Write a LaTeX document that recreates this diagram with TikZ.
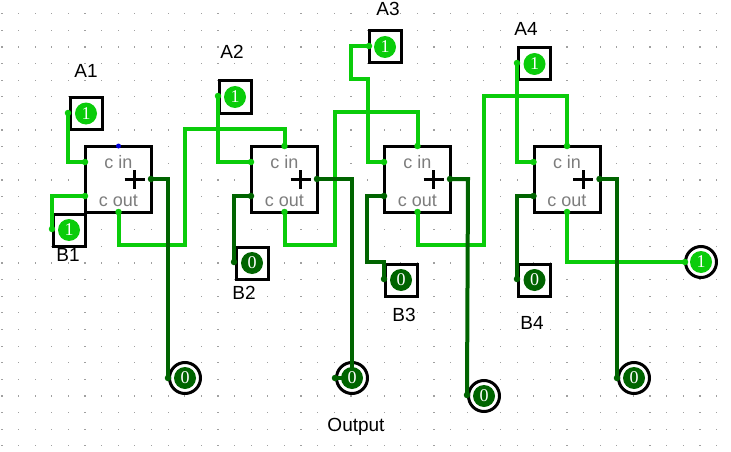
\documentclass[tikz,border=0pt]{standalone}
\usepackage{fontspec}
\setmainfont{Liberation Sans}
\newfontfamily\digitfont{Liberation Serif}
\definecolor{wireon}{RGB}{10,204,10}
\definecolor{wireoff}{RGB}{0,100,0}
\definecolor{griddot}{RGB}{160,160,160}
\definecolor{pinlabel}{RGB}{125,125,125}
\tikzset{
  adderbox/.style={draw=black,line width=3pt,fill=white,minimum width=66pt,minimum height=66pt,inner sep=0pt},
  inbox/.style={draw=black,line width=3pt,fill=white,minimum width=32pt,minimum height=32pt,inner sep=0pt},
  ring/.style={circle,draw=black,line width=3pt,fill=white,minimum size=31pt,inner sep=0pt},
  von/.style={circle,fill=wireon,text=white,minimum size=22pt,inner sep=0pt,font=\digitfont\fontsize{18}{18}\selectfont},
  voff/.style={circle,fill=wireoff,text=white,minimum size=22pt,inner sep=0pt,font=\digitfont\fontsize{18}{18}\selectfont},
  won/.style={draw=wireon,line width=4pt,line join=miter},
  woff/.style={draw=wireoff,line width=4pt,line join=miter},
  pinon/.style={circle,fill=wireon,minimum size=6.5pt,inner sep=0pt},
  pinoff/.style={circle,fill=wireoff,minimum size=6.5pt,inner sep=0pt},
  lbl/.style={text=black,font=\fontsize{19}{19}\selectfont,inner sep=0pt},
  pinname/.style={text=pinlabel,font=\fontsize{18}{18}\selectfont,inner sep=0pt},
}
\begin{document}
\begin{tikzpicture}[x=1pt,y=-1pt]
\useasboundingbox (0,0) rectangle (731,452);
\fill[white] (0,0) rectangle (731,452);
% grid
\foreach \i in {0,...,43} \foreach \j in {0,...,26}
  \fill[griddot] ({1.9+16.62*\i-0.6},{13.7+16.62*\j-0.6}) rectangle ++(1.2,1.2);
% adders
\foreach \n/\cx in {a/118.5,b/284.5,c/417.5,d/567}{
  \node[adderbox] (add\n) at (\cx,179) {};
  \node[pinname] (cin\n) at (\cx,162) {c in};
  \node[pinname] (cout\n) at (\cx,201) {c out};
  \node[inner sep=0pt,minimum size=0pt] (plus\n) at (\cx+16,179) {};
  \draw[line width=3pt] ([xshift=-10pt]plus\n.center) -- ([xshift=10pt]plus\n.center);
  \draw[line width=3pt] ([yshift=-9.5pt]plus\n.center) -- ([yshift=9.5pt]plus\n.center);
  \coordinate (tl\n) at (\cx-33.5,162);
  \coordinate (bl\n) at (\cx-33.5,196);
  \coordinate (top\n) at (\cx,146);
  \coordinate (bot\n) at (\cx,212);
  \coordinate (rt\n) at (\cx+32.5,179);
}
% inputs
\node[inbox] (boxA1) at (86,113.5) {};
\node[inbox] (boxB1) at (69,230) {};
\node[inbox] (boxA2) at (235,97) {};
\node[inbox] (boxB2) at (252,263) {};
\node[inbox] (boxA3) at (385,47) {};
\node[inbox] (boxB3) at (401,280) {};
\node[inbox] (boxA4) at (534.5,64) {};
\node[inbox] (boxB4) at (534.5,280) {};
% outputs
\node[ring] (ringS1) at (185,378) {};
\node[ring] (ringS2) at (352,378) {};
\node[ring] (ringS3) at (484,396) {};
\node[ring] (ringS4) at (634,378) {};
\node[ring] (ringC) at (701,262) {};
% pin positions
\coordinate (pA1) at (68,113);
\coordinate (pB1) at (52,229);
\coordinate (pA2) at (218,96);
\coordinate (pB2) at (234,262);
\coordinate (pA3) at (369,46);
\coordinate (pB3) at (384,279);
\coordinate (pA4) at (517,63);
\coordinate (pB4) at (517,279);
\coordinate (pS1) at (168,378);
\coordinate (pS2) at (335,378);
\coordinate (pS3) at (467,395);
\coordinate (pS4) at (617,378);
\coordinate (pC) at (685,262);
% on wires
\draw[won] (pA1) -- (68,162) -- (tla);
\draw[won] (pB1) -- (52,196) -- (bla);
\draw[won] (bota) -- (118.5,245) -- (185,245) -- (185,129) -- (284.5,129) -- (topb);
\draw[won] (pA2) -- (218,162) -- (tlb);
\draw[won] (botb) -- (284.5,245) -- (335,245) -- (335,112) -- (417.5,112) -- (topc);
\draw[won] (pA3) -- (351,46) -- (351,79) -- (368,79) -- (368,162) -- (tlc);
\draw[won] (botc) -- (417.5,245) -- (484,245) -- (484,96) -- (567,96) -- (topd);
\draw[won] (pA4) -- (517,162) -- (tld);
\draw[won] (botd) -- (567,262) -- (pC);
% off wires
\draw[woff] (rta) -- (168,179) -- (pS1);
\draw[woff] (rtb) -- (352,179) -- (ringS2.center);
\draw[woff] (pS2) -- (ringS2.center);
\draw[woff] (rtc) -- (468,179) -- (pS3);
\draw[woff] (rtd) -- (617,179) -- (pS4);
\draw[woff] (blb) -- (234,196) -- (pB2);
\draw[woff] (blc) -- (367,196) -- (367,262) -- (384,262) -- (pB3);
\draw[woff] (bld) -- (517,196) -- (pB4);
% pin dots
\foreach \p in {pA1,pB1,pA2,pA3,pA4,pC,tla,bla,bota,topb,tlb,botb,topc,tlc,botc,topd,tld,botd}
  \node[pinon] at (\p) {};
\foreach \p in {pB2,pB3,pB4,pS1,pS2,pS3,pS4,rta,rtb,rtc,rtd,blb,blc,bld}
  \node[pinoff] at (\p) {};
\node[circle,fill=blue!85!black,minimum size=5pt,inner sep=0pt] (carry) at (topa) {};
% values
\node[von] (vA1) at (boxA1) {1};
\node[von] (vB1) at (boxB1) {1};
\node[von] (vA2) at (boxA2) {1};
\node[voff] (vB2) at (boxB2) {0};
\node[von] (vA3) at (boxA3) {1};
\node[voff] (vB3) at (boxB3) {0};
\node[von] (vA4) at (boxA4) {1};
\node[voff] (vB4) at (boxB4) {0};
\node[voff] (vS1) at (ringS1) {0};
\node[voff] (vS2) at (ringS2) {0};
\node[voff] (vS3) at (ringS3) {0};
\node[voff] (vS4) at (ringS4) {0};
\node[von] (vC) at (ringC) {1};
% labels
\node[lbl] (tA1) at (86,71) {A1};
\node[lbl] (tA2) at (232,52) {A2};
\node[lbl] (tA3) at (388,9) {A3};
\node[lbl] (tA4) at (526,29) {A4};
\node[lbl] (tB1) at (68,255) {B1};
\node[lbl] (tB2) at (244,293) {B2};
\node[lbl] (tB3) at (404,315) {B3};
\node[lbl] (tB4) at (532,323) {B4};
\node[lbl] (tO) at (356,427) {Output};
\end{tikzpicture}
\end{document}
